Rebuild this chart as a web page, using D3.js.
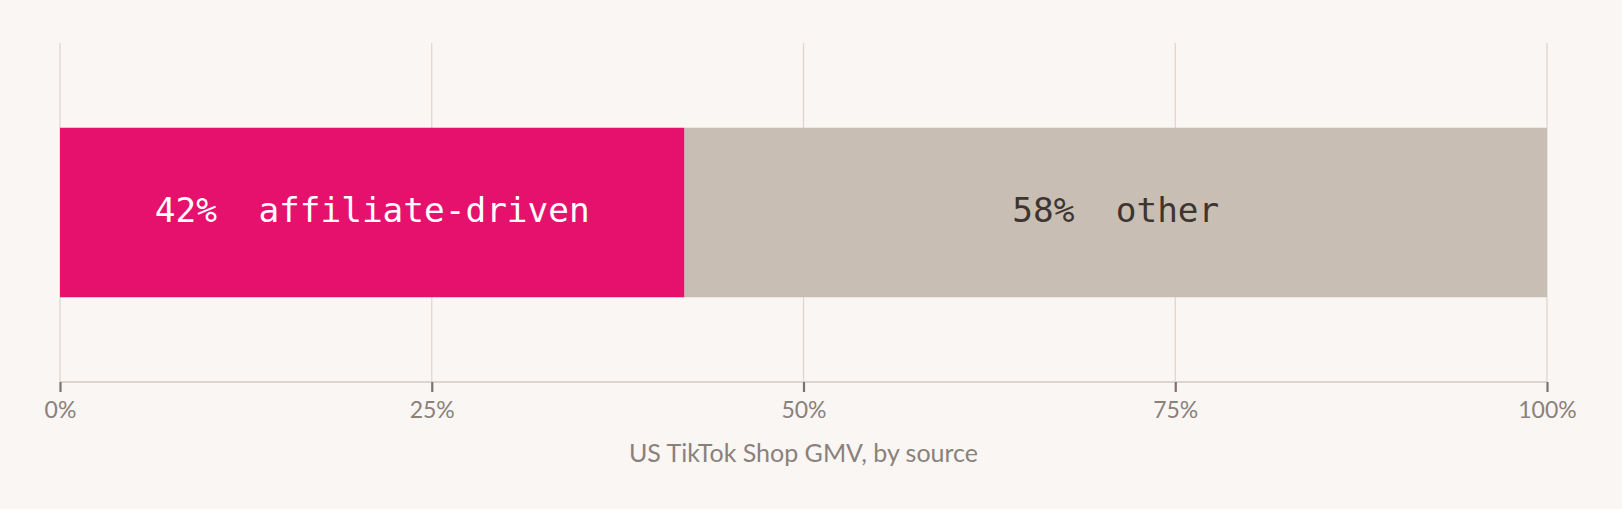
<!DOCTYPE html>
<html>
<head>
<meta charset="utf-8">
<script src="https://cdn.jsdelivr.net/npm/d3@7"></script>
<style>
  html, body { margin: 0; padding: 0; background: #faf6f3; }
  svg { display: block; }
</style>
</head>
<body>
<div id="app"></div>
<script>
`use strict`;

const Segments = [`affiliate-driven`, `other`];
const Shares = [42, 58];
const Ticks = [0, 25, 50, 75, 100];
const Title = `US TikTok Shop GMV, by source`;

const W = 1622, H = 509;
const M = {top: 43, left: 60, right: 75, bottom: 127};

let SVG = d3.select(`#app`).append(`svg`).attr(`width`, W).attr(`height`, H);

SVG.append(`rect`).attr(`width`, W).attr(`height`, H).attr(`fill`, `#faf6f3`);

let x = d3.scaleLinear().domain([0, 100]).range([M.left, W - M.right]);
let y = d3.scaleBand().domain([`GMV`]).range([M.top, H - M.bottom]).paddingInner(0).paddingOuter(0.5);

/* grid */
SVG.append(`g`).selectAll(`line`).data(Ticks).enter().append(`line`)
  .attr(`x1`, d => x(d)).attr(`x2`, d => x(d))
  .attr(`y1`, M.top).attr(`y2`, H - M.bottom)
  .attr(`stroke`, `#dcd5cf`).attr(`stroke-width`, 1.2);

/* stacked bar */
let Rows = [];
let acc = 0;
Segments.forEach((s, i) => {
  Rows.push({key: s, v: Shares[i], x0: acc, x1: acc + Shares[i]});
  acc += Shares[i];
});

let Fill = d3.scaleOrdinal().domain(Segments).range([`#e5116d`, `#c9beb4`]);
let Ink = d3.scaleOrdinal().domain(Segments).range([`#ffffff`, `#3d3531`]);

let Bar = SVG.append(`g`).selectAll(`g`).data(Rows).enter().append(`g`);

Bar.append(`rect`)
  .attr(`x`, d => x(d.x0)).attr(`width`, d => x(d.x1) - x(d.x0))
  .attr(`y`, y(`GMV`)).attr(`height`, y.bandwidth())
  .attr(`fill`, d => Fill(d.key));

Bar.append(`text`)
  .attr(`x`, d => (x(d.x0) + x(d.x1)) / 2)
  .attr(`y`, y(`GMV`) + y.bandwidth() / 2)
  .attr(`dy`, `0.29em`)
  .attr(`text-anchor`, `middle`)
  .attr(`font-family`, `"DejaVu Sans Mono", monospace`)
  .attr(`font-size`, `34.4px`)
  .attr(`fill`, d => Ink(d.key))
  .style(`white-space`, `pre`)
  .text(d => `${d.v}%  ${d.key}`);

/* axis */
let Axis = SVG.append(`g`).attr(`transform`, `translate(0,${H - M.bottom})`)
  .call(d3.axisBottom(x).tickValues(Ticks).tickFormat(d => `${d}%`).tickSize(10).tickPadding(10));

Axis.select(`.domain`).attr(`stroke`, `#dcd5cf`).attr(`stroke-width`, 2.2).attr(`d`, `M${x(0)},0H${x(100)}`);
Axis.selectAll(`.tick line`).attr(`stroke`, `#7d736e`).attr(`stroke-width`, 2.2);
Axis.selectAll(`.tick text`).attr(`fill`, `#8a817b`).attr(`font-family`, `Lato, sans-serif`).attr(`font-size`, `23px`);

SVG.append(`text`)
  .attr(`x`, (x(0) + x(100)) / 2).attr(`y`, 462)
  .attr(`text-anchor`, `middle`)
  .attr(`font-family`, `Lato, sans-serif`).attr(`font-size`, `25px`)
  .attr(`fill`, `#8a817b`)
  .text(Title);
</script>
</body>
</html>
